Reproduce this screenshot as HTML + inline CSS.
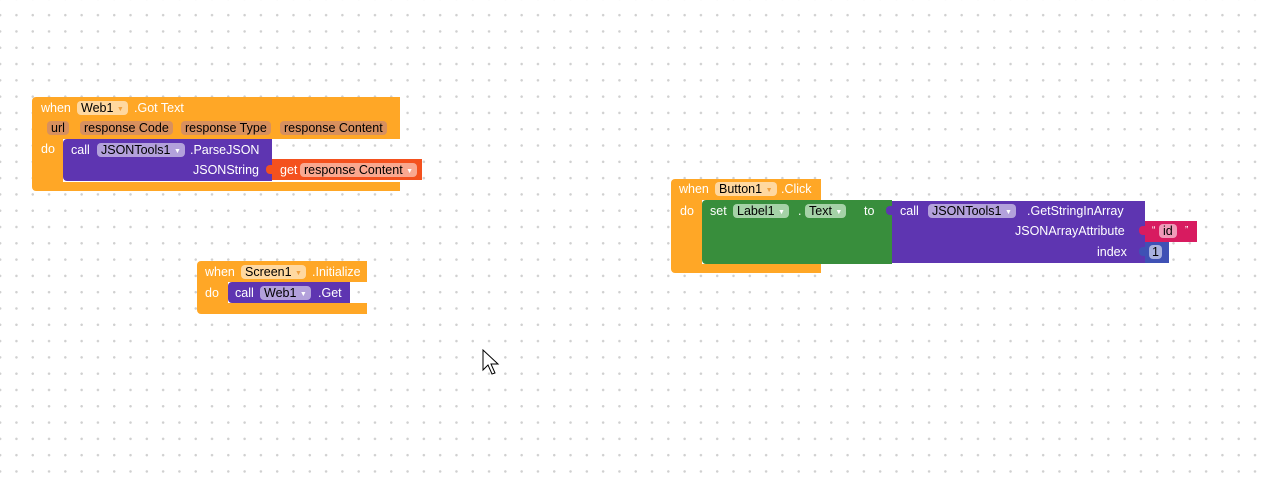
<!DOCTYPE html>
<html><head><meta charset="utf-8"><style>
html,body{margin:0;padding:0}
body{width:1265px;height:486px;position:relative;overflow:hidden;background:#fff;
background-image:radial-gradient(circle,#d0d0d0 1.1px,transparent 1.4px);background-size:16.3px 16.3px;background-position:-8px 7px;
font-family:"Liberation Sans",Arial,sans-serif;font-size:12.5px;color:#fff}
.b{position:absolute}
.o{background:#ffa726}
.p{background:#5e35b1}
.r{background:#f4511e}
.g{background:#388e3c}
.t{position:absolute;white-space:nowrap;line-height:14px}
.pill{position:absolute;border-radius:4px;line-height:14px;height:14px;padding:0 4px;white-space:nowrap;color:#000}
.po{background:#ffd8a0}
.pb{background:#d8905e}
.pp{background:#b3a1db}
.pr{background:#f9a890}
.pg{background:#a5d2a7}
.ar{font-size:7px;color:#fff;vertical-align:1px}
</style></head><body>

<!-- Web1 GotText -->
<div class="b o" style="left:32px;top:97px;width:368px;height:42px;border-radius:4px 0 0 0"></div>
<div class="b o" style="left:32px;top:139px;width:31px;height:45px"></div>
<div class="b o" style="left:32px;top:182px;width:368px;height:9px;border-radius:0 0 0 4px"></div>
<div class="t" style="left:41px;top:101px">when</div>
<div class="pill po" style="left:77px;top:101px">Web1 <span class="ar" style="color:#f0a040">▼</span></div>
<div class="t" style="left:134px;top:101px">.Got Text</div>
<div class="pill pb" style="left:47px;top:121px">url</div>
<div class="pill pb" style="left:80px;top:121px">response Code</div>
<div class="pill pb" style="left:181px;top:121px">response Type</div>
<div class="pill pb" style="left:280px;top:121px">response Content</div>
<div class="t" style="left:41px;top:142px">do</div>
<div class="b p" style="left:63px;top:139px;width:209px;height:42px;border-radius:4px 0 0 4px"></div>
<div class="t" style="left:71px;top:143px">call</div>
<div class="pill pp" style="left:97px;top:143px">JSONTools1 <span class="ar">▼</span></div>
<div class="t" style="left:190px;top:143px">.ParseJSON</div>
<div class="t" style="left:193px;top:163px">JSONString</div>
<div class="b r" style="left:272px;top:159px;width:150px;height:21px"></div>
<div class="b r" style="left:266px;top:165px;width:7px;height:9px;border-radius:4px 0 0 4px"></div>
<div class="t" style="left:280px;top:163px">get</div>
<div class="pill pr" style="left:300px;top:163px">response Content <span class="ar">▼</span></div>

<!-- Screen1 Initialize -->
<div class="b o" style="left:197px;top:261px;width:170px;height:21px;border-radius:4px 0 0 0"></div>
<div class="b o" style="left:197px;top:282px;width:31px;height:24px"></div>
<div class="b o" style="left:197px;top:303px;width:170px;height:11px;border-radius:0 0 0 4px"></div>
<div class="t" style="left:205px;top:265px">when</div>
<div class="pill po" style="left:241px;top:265px">Screen1 <span class="ar" style="color:#f0a040">▼</span></div>
<div class="t" style="left:312px;top:265px">.Initialize</div>
<div class="t" style="left:205px;top:286px">do</div>
<div class="b p" style="left:228px;top:282px;width:122px;height:21px;border-radius:4px 0 0 4px"></div>
<div class="t" style="left:235px;top:286px">call</div>
<div class="pill pp" style="left:260px;top:286px">Web1 <span class="ar">▼</span></div>
<div class="t" style="left:318px;top:286px">.Get</div>

<!-- Button1 Click -->
<div class="b o" style="left:671px;top:179px;width:150px;height:21px;border-radius:4px 0 0 0"></div>
<div class="b o" style="left:671px;top:199px;width:31px;height:68px"></div>
<div class="b o" style="left:671px;top:264px;width:150px;height:9px;border-radius:0 0 0 4px"></div>
<div class="t" style="left:679px;top:182px">when</div>
<div class="pill po" style="left:715px;top:182px">Button1 <span class="ar" style="color:#f0a040">▼</span></div>
<div class="t" style="left:781px;top:182px">.Click</div>
<div class="t" style="left:680px;top:204px">do</div>
<div class="b g" style="left:702px;top:200px;width:190px;height:64px;border-radius:4px 0 0 4px"></div>
<div class="t" style="left:710px;top:204px">set</div>
<div class="pill pg" style="left:733px;top:204px">Label1 <span class="ar">▼</span></div>
<div class="t" style="left:798px;top:204px">.</div>
<div class="pill pg" style="left:805px;top:204px">Text <span class="ar">▼</span></div>
<div class="t" style="left:864px;top:204px">to</div>
<div class="b p" style="left:892px;top:201px;width:253px;height:62px"></div>
<div class="b p" style="left:886px;top:206px;width:7px;height:9px;border-radius:4px 0 0 4px"></div>
<div class="t" style="left:900px;top:204px">call</div>
<div class="pill pp" style="left:928px;top:204px">JSONTools1 <span class="ar">▼</span></div>
<div class="t" style="left:1027px;top:204px">.GetStringInArray</div>
<div class="t" style="left:1015px;top:224px">JSONArrayAttribute</div>
<div class="t" style="left:1097px;top:245px">index</div>
<div class="b" style="left:1145px;top:221px;width:52px;height:21px;background:#d81b60"></div>
<div class="b" style="left:1139px;top:226px;width:7px;height:9px;border-radius:4px 0 0 4px;background:#d81b60"></div>
<div class="t" style="left:1152px;top:224px;font-size:10px">“</div>
<div class="pill" style="left:1159px;top:224px;background:#ef9ab8">id</div>
<div class="t" style="left:1185px;top:224px;font-size:10px">”</div>
<div class="b" style="left:1145px;top:242px;width:24px;height:21px;background:#3f51b5"></div>
<div class="b" style="left:1139px;top:247px;width:7px;height:9px;border-radius:4px 0 0 4px;background:#3f51b5"></div>
<div class="pill" style="left:1149px;top:245px;background:#a8b0de;padding:0 3px">1</div>

<!-- cursor -->
<svg class="b" style="left:482px;top:349px" width="20" height="28" viewBox="0 0 20 28"><path d="M1 1 L1 21 L6 16 L10 25 L13 24 L9 15 L16 15 Z" fill="#fff" stroke="#000" stroke-width="1"/></svg>
</body></html>
